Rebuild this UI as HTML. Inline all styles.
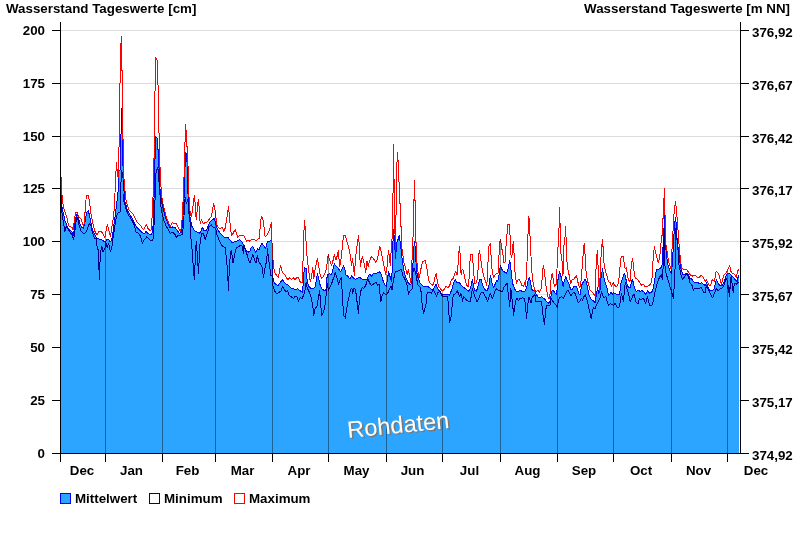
<!DOCTYPE html>
<html><head><meta charset="utf-8"><title>Wasserstand Tageswerte</title>
<style>
html,body{margin:0;padding:0;background:#fff;}
body{width:800px;height:550px;overflow:hidden;font-family:"Liberation Sans",sans-serif;}
svg{display:block;will-change:transform;}
text{font-family:"Liberation Sans",sans-serif;font-weight:bold;font-size:13.33px;fill:#000;}
</style></head><body>
<svg width="800" height="550" viewBox="0 0 800 550">
<rect x="0" y="0" width="800" height="550" fill="#fff"/>

<line x1="61" y1="30.5" x2="740" y2="30.5" stroke="#dcdcdc" stroke-width="1"/>
<line x1="61" y1="83.5" x2="740" y2="83.5" stroke="#dcdcdc" stroke-width="1"/>
<line x1="61" y1="136.5" x2="740" y2="136.5" stroke="#dcdcdc" stroke-width="1"/>
<line x1="61" y1="188.5" x2="740" y2="188.5" stroke="#dcdcdc" stroke-width="1"/>
<line x1="61" y1="241.5" x2="740" y2="241.5" stroke="#dcdcdc" stroke-width="1"/>
<line x1="61" y1="294.5" x2="740" y2="294.5" stroke="#dcdcdc" stroke-width="1"/>
<line x1="61" y1="347.5" x2="740" y2="347.5" stroke="#dcdcdc" stroke-width="1"/>
<line x1="61" y1="400.5" x2="740" y2="400.5" stroke="#dcdcdc" stroke-width="1"/>
<path d="M61.0,192.5 L61.3,200.0 L62.3,209.4 L63.5,213.8 L65.0,220.7 L66.9,225.7 L68.2,228.2 L70.1,230.1 L71.9,232.0 L73.6,235.8 L74.4,226.3 L75.7,217.6 L77.3,213.6 L78.8,218.8 L80.1,224.5 L81.6,227.0 L83.6,228.2 L85.1,221.3 L86.6,212.5 L88.2,210.7 L89.5,215.1 L90.8,222.0 L92.0,227.6 L93.3,232.0 L94.9,235.1 L97.0,238.3 L98.9,239.1 L101.4,239.5 L103.3,240.8 L105.2,242.0 L106.7,239.9 L108.3,239.5 L110.0,241.4 L111.5,240.8 L112.5,236.4 L113.6,227.0 L114.6,220.1 L115.5,213.8 L116.5,205.0 L117.1,200.0 L118.0,192.0 L118.8,191.0 L118.8,170.0 L120.2,170.0 L120.2,134.0 L121.3,134.0 L121.3,108.0 L122.3,108.0 L122.3,128.0 L122.7,130.0 L122.7,166.0 L123.6,166.0 L123.6,180.0 L124.5,190.0 L124.6,200.0 L125.9,205.0 L127.5,210.7 L129.7,214.4 L132.2,218.2 L134.7,223.2 L136.6,227.0 L139.1,229.5 L141.6,232.0 L144.1,234.1 L146.0,231.4 L148.5,233.9 L151.0,235.1 L152.2,232.9 L152.9,228.9 L153.5,215.0 L154.2,192.0 L154.2,160.0 L155.1,159.0 L155.2,136.0 L157.7,138.5 L157.7,149.5 L158.4,150.0 L158.4,167.4 L159.4,168.0 L159.4,187.0 L160.3,190.0 L160.7,196.3 L161.9,203.8 L163.8,211.3 L165.7,218.2 L168.2,223.9 L170.1,227.6 L172.6,227.0 L175.1,227.6 L177.0,230.2 L179.5,233.3 L181.4,232.7 L182.4,225.1 L183.2,212.6 L183.9,200.0 L184.5,190.0 L184.3,168.0 L185.2,167.0 L185.3,152.0 L186.2,153.0 L186.2,161.8 L187.1,162.0 L187.1,178.8 L187.8,180.0 L187.8,192.0 L188.3,197.5 L189.1,208.8 L190.2,218.9 L192.0,226.4 L194.5,230.8 L197.1,232.0 L199.6,233.3 L201.2,230.8 L202.4,227.0 L204.0,230.8 L206.5,230.2 L208.3,225.8 L210.2,222.0 L212.1,220.1 L214.0,218.6 L215.2,221.4 L216.5,227.0 L218.4,230.8 L220.9,233.9 L224.0,237.1 L227.8,237.4 L230.3,240.2 L232.2,242.9 L235.3,241.4 L237.8,240.8 L239.7,239.6 L241.6,241.4 L243.5,244.6 L244.7,247.7 L246.6,251.5 L248.5,252.1 L250.0,250.9 L251.0,248.3 L252.5,246.4 L254.0,249.2 L255.7,252.1 L257.5,248.9 L259.1,249.9 L260.7,245.2 L261.9,243.3 L263.8,245.8 L265.7,248.3 L267.3,241.6 L269.5,242.0 L271.3,239.5 L272.2,243.9 L272.4,262.5 L272.9,277.6 L274.1,282.6 L276.1,284.5 L278.2,285.7 L280.1,282.6 L282.4,279.5 L284.1,282.0 L286.4,284.1 L288.3,285.1 L290.8,287.9 L293.3,288.6 L295.2,290.1 L297.7,288.6 L300.2,290.8 L302.5,292.0 L303.0,286.4 L303.7,273.8 L304.6,267.5 L306.2,268.8 L307.1,280.1 L308.4,285.7 L310.2,287.9 L313.4,288.9 L315.3,287.0 L316.5,278.8 L317.5,273.8 L319.0,280.1 L320.3,285.7 L322.2,289.1 L324.0,290.4 L325.9,290.1 L326.6,280.1 L327.4,275.1 L329.7,273.8 L331.6,274.8 L332.8,270.1 L334.3,263.8 L336.0,266.3 L337.8,267.5 L340.4,271.9 L342.2,268.8 L343.5,265.7 L345.0,270.1 L345.6,274.6 L347.5,275.8 L349.8,279.0 L351.9,275.8 L353.2,277.7 L355.1,279.2 L357.6,278.3 L359.4,277.4 L362.0,279.0 L364.5,279.2 L367.0,279.2 L368.6,275.2 L370.1,273.9 L371.4,276.4 L373.2,273.7 L375.8,273.3 L378.3,272.7 L379.9,271.7 L381.4,275.2 L383.3,281.5 L384.9,285.0 L386.4,286.5 L387.7,277.7 L388.6,271.4 L389.6,275.2 L390.8,279.0 L391.7,281.5 L392.4,262.6 L392.9,243.8 L393.5,229.4 L394.2,237.5 L395.0,250.1 L395.5,258.9 L396.2,250.1 L397.1,241.3 L398.3,238.8 L399.2,235.7 L400.2,242.6 L401.2,250.1 L402.1,258.9 L403.4,267.7 L404.6,273.9 L406.5,279.0 L408.4,283.3 L410.3,284.6 L411.8,283.3 L412.5,272.7 L413.4,256.4 L414.3,241.3 L415.3,247.6 L415.9,260.1 L416.8,272.7 L418.4,279.0 L420.3,283.3 L422.8,285.9 L425.3,286.5 L427.8,286.5 L430.3,288.4 L432.8,290.2 L434.7,286.5 L436.0,284.2 L437.2,287.7 L438.5,290.2 L440.0,291.5 L441.3,293.2 L442.5,294.5 L445.7,294.5 L448.2,294.9 L449.4,295.1 L450.1,294.0 L451.9,289.0 L453.8,282.7 L455.3,279.2 L457.0,282.7 L459.5,282.7 L461.3,285.2 L463.2,287.1 L465.7,289.0 L468.2,291.5 L470.1,289.0 L471.4,285.2 L472.4,279.0 L473.3,285.2 L474.5,290.2 L476.4,291.5 L478.3,285.2 L479.5,279.6 L481.2,279.6 L482.4,285.2 L484.6,289.0 L486.4,290.9 L487.7,289.6 L489.0,285.2 L489.8,279.0 L490.5,275.2 L491.5,280.2 L492.5,285.2 L493.7,287.7 L495.2,284.0 L496.5,280.2 L497.7,281.5 L499.0,275.2 L500.0,267.7 L500.7,265.2 L501.5,268.9 L502.8,270.8 L504.6,272.1 L506.5,273.3 L507.8,270.2 L508.8,265.2 L509.7,260.5 L510.5,265.2 L511.5,275.2 L512.8,284.0 L514.7,289.0 L516.6,291.5 L519.1,290.9 L520.9,290.2 L522.8,292.1 L524.7,291.5 L526.6,287.7 L528.1,280.2 L529.4,277.4 L530.4,281.5 L531.6,289.0 L533.5,290.9 L535.0,290.2 L536.3,294.5 L538.2,297.0 L540.0,298.2 L541.3,296.4 L543.2,297.9 L545.1,299.5 L546.9,302.0 L548.8,303.3 L550.1,301.4 L551.1,295.1 L552.3,290.1 L554.5,292.0 L556.3,294.5 L557.0,290.1 L557.9,280.1 L559.5,271.3 L560.7,275.0 L562.0,281.3 L563.2,286.3 L564.5,280.1 L565.8,276.9 L567.0,280.1 L568.9,283.8 L570.4,288.8 L572.0,290.1 L573.9,286.6 L575.8,286.1 L577.4,288.2 L578.7,293.9 L580.2,294.5 L581.7,285.1 L583.3,281.9 L585.2,279.1 L586.5,282.6 L587.7,288.8 L588.7,293.9 L590.2,297.6 L592.1,300.1 L594.0,301.4 L595.2,302.6 L596.5,293.9 L597.5,287.6 L598.8,293.9 L600.0,290.1 L600.9,278.8 L602.5,268.8 L603.4,275.0 L604.7,281.3 L605.9,285.1 L607.2,288.8 L608.4,295.1 L609.7,294.5 L610.9,292.0 L612.2,294.5 L613.4,292.6 L615.3,293.9 L617.2,294.5 L619.1,295.1 L620.1,290.1 L621.0,282.6 L622.8,277.5 L624.4,273.2 L625.4,276.3 L626.6,282.6 L627.9,286.3 L630.0,288.2 L631.3,282.6 L632.5,279.1 L633.5,283.8 L634.8,288.8 L636.3,291.3 L638.2,290.1 L640.1,291.6 L641.9,290.3 L643.8,292.0 L645.7,294.5 L647.6,290.7 L649.5,293.2 L651.3,292.6 L652.6,290.7 L653.9,285.1 L655.1,277.5 L656.4,269.4 L658.9,269.0 L660.8,268.1 L662.0,265.0 L662.6,253.9 L663.5,240.0 L663.5,229.0 L664.4,228.0 L664.4,215.7 L665.1,217.0 L665.1,237.0 L666.0,250.0 L666.4,253.9 L667.4,262.6 L668.9,267.7 L670.2,271.4 L671.4,273.9 L672.4,262.6 L673.3,247.6 L674.3,228.4 L675.3,217.6 L676.2,223.3 L676.8,238.6 L677.9,246.2 L678.7,251.3 L680.0,262.6 L681.2,270.0 L682.7,274.4 L684.6,275.0 L686.5,273.2 L688.4,275.0 L690.0,278.4 L691.3,278.9 L692.6,280.2 L694.4,282.4 L696.1,282.5 L697.9,282.4 L699.2,283.7 L700.5,283.2 L701.4,282.4 L702.7,283.7 L704.0,284.6 L705.3,285.9 L706.4,282.4 L707.2,285.0 L708.5,288.5 L710.1,290.2 L711.9,290.7 L713.6,289.8 L714.7,286.7 L715.5,282.4 L716.4,279.7 L717.6,282.4 L718.9,284.6 L720.2,285.9 L721.5,285.9 L722.8,284.6 L724.1,281.5 L725.4,278.0 L726.3,275.4 L727.6,273.4 L729.4,273.2 L730.7,274.5 L732.0,275.8 L733.3,277.1 L734.6,278.9 L735.9,280.6 L737.2,281.5 L737.9,278.0 L738.6,275.4 L738.6,453 L61.0,453 Z" fill="#2ba5ff" stroke="none" shape-rendering="crispEdges"/>
<path d="M61.0,192.5 L61.3,200.0 L62.3,209.4 L63.5,213.8 L65.0,220.7 L66.9,225.7 L68.2,228.2 L70.1,230.1 L71.9,232.0 L73.6,235.8 L74.4,226.3 L75.7,217.6 L77.3,213.6 L78.8,218.8 L80.1,224.5 L81.6,227.0 L83.6,228.2 L85.1,221.3 L86.6,212.5 L88.2,210.7 L89.5,215.1 L90.8,222.0 L92.0,227.6 L93.3,232.0 L94.9,235.1 L97.0,238.3 L98.9,239.1 L101.4,239.5 L103.3,240.8 L105.2,242.0 L106.7,239.9 L108.3,239.5 L110.0,241.4 L111.5,240.8 L112.5,236.4 L113.6,227.0 L114.6,220.1 L115.5,213.8 L116.5,205.0 L117.1,200.0 L118.0,192.0 L118.8,191.0 L118.8,170.0 L120.2,170.0 L120.2,134.0 L121.3,134.0 L121.3,108.0 L122.3,108.0 L122.3,128.0 L122.7,130.0 L122.7,166.0 L123.6,166.0 L123.6,180.0 L124.5,190.0 L124.6,200.0 L125.9,205.0 L127.5,210.7 L129.7,214.4 L132.2,218.2 L134.7,223.2 L136.6,227.0 L139.1,229.5 L141.6,232.0 L144.1,234.1 L146.0,231.4 L148.5,233.9 L151.0,235.1 L152.2,232.9 L152.9,228.9 L153.5,215.0 L154.2,192.0 L154.2,160.0 L155.1,159.0 L155.2,136.0 L157.7,138.5 L157.7,149.5 L158.4,150.0 L158.4,167.4 L159.4,168.0 L159.4,187.0 L160.3,190.0 L160.7,196.3 L161.9,203.8 L163.8,211.3 L165.7,218.2 L168.2,223.9 L170.1,227.6 L172.6,227.0 L175.1,227.6 L177.0,230.2 L179.5,233.3 L181.4,232.7 L182.4,225.1 L183.2,212.6 L183.9,200.0 L184.5,190.0 L184.3,168.0 L185.2,167.0 L185.3,152.0 L186.2,153.0 L186.2,161.8 L187.1,162.0 L187.1,178.8 L187.8,180.0 L187.8,192.0 L188.3,197.5 L189.1,208.8 L190.2,218.9 L192.0,226.4 L194.5,230.8 L197.1,232.0 L199.6,233.3 L201.2,230.8 L202.4,227.0 L204.0,230.8 L206.5,230.2 L208.3,225.8 L210.2,222.0 L212.1,220.1 L214.0,218.6 L215.2,221.4 L216.5,227.0 L218.4,230.8 L220.9,233.9 L224.0,237.1 L227.8,237.4 L230.3,240.2 L232.2,242.9 L235.3,241.4 L237.8,240.8 L239.7,239.6 L241.6,241.4 L243.5,244.6 L244.7,247.7 L246.6,251.5 L248.5,252.1 L250.0,250.9 L251.0,248.3 L252.5,246.4 L254.0,249.2 L255.7,252.1 L257.5,248.9 L259.1,249.9 L260.7,245.2 L261.9,243.3 L263.8,245.8 L265.7,248.3 L267.3,241.6 L269.5,242.0 L271.3,239.5 L272.2,243.9 L272.4,262.5 L272.9,277.6 L274.1,282.6 L276.1,284.5 L278.2,285.7 L280.1,282.6 L282.4,279.5 L284.1,282.0 L286.4,284.1 L288.3,285.1 L290.8,287.9 L293.3,288.6 L295.2,290.1 L297.7,288.6 L300.2,290.8 L302.5,292.0 L303.0,286.4 L303.7,273.8 L304.6,267.5 L306.2,268.8 L307.1,280.1 L308.4,285.7 L310.2,287.9 L313.4,288.9 L315.3,287.0 L316.5,278.8 L317.5,273.8 L319.0,280.1 L320.3,285.7 L322.2,289.1 L324.0,290.4 L325.9,290.1 L326.6,280.1 L327.4,275.1 L329.7,273.8 L331.6,274.8 L332.8,270.1 L334.3,263.8 L336.0,266.3 L337.8,267.5 L340.4,271.9 L342.2,268.8 L343.5,265.7 L345.0,270.1 L345.6,274.6 L347.5,275.8 L349.8,279.0 L351.9,275.8 L353.2,277.7 L355.1,279.2 L357.6,278.3 L359.4,277.4 L362.0,279.0 L364.5,279.2 L367.0,279.2 L368.6,275.2 L370.1,273.9 L371.4,276.4 L373.2,273.7 L375.8,273.3 L378.3,272.7 L379.9,271.7 L381.4,275.2 L383.3,281.5 L384.9,285.0 L386.4,286.5 L387.7,277.7 L388.6,271.4 L389.6,275.2 L390.8,279.0 L391.7,281.5 L392.4,262.6 L392.9,243.8 L393.5,229.4 L394.2,237.5 L395.0,250.1 L395.5,258.9 L396.2,250.1 L397.1,241.3 L398.3,238.8 L399.2,235.7 L400.2,242.6 L401.2,250.1 L402.1,258.9 L403.4,267.7 L404.6,273.9 L406.5,279.0 L408.4,283.3 L410.3,284.6 L411.8,283.3 L412.5,272.7 L413.4,256.4 L414.3,241.3 L415.3,247.6 L415.9,260.1 L416.8,272.7 L418.4,279.0 L420.3,283.3 L422.8,285.9 L425.3,286.5 L427.8,286.5 L430.3,288.4 L432.8,290.2 L434.7,286.5 L436.0,284.2 L437.2,287.7 L438.5,290.2 L440.0,291.5 L441.3,293.2 L442.5,294.5 L445.7,294.5 L448.2,294.9 L449.4,295.1 L450.1,294.0 L451.9,289.0 L453.8,282.7 L455.3,279.2 L457.0,282.7 L459.5,282.7 L461.3,285.2 L463.2,287.1 L465.7,289.0 L468.2,291.5 L470.1,289.0 L471.4,285.2 L472.4,279.0 L473.3,285.2 L474.5,290.2 L476.4,291.5 L478.3,285.2 L479.5,279.6 L481.2,279.6 L482.4,285.2 L484.6,289.0 L486.4,290.9 L487.7,289.6 L489.0,285.2 L489.8,279.0 L490.5,275.2 L491.5,280.2 L492.5,285.2 L493.7,287.7 L495.2,284.0 L496.5,280.2 L497.7,281.5 L499.0,275.2 L500.0,267.7 L500.7,265.2 L501.5,268.9 L502.8,270.8 L504.6,272.1 L506.5,273.3 L507.8,270.2 L508.8,265.2 L509.7,260.5 L510.5,265.2 L511.5,275.2 L512.8,284.0 L514.7,289.0 L516.6,291.5 L519.1,290.9 L520.9,290.2 L522.8,292.1 L524.7,291.5 L526.6,287.7 L528.1,280.2 L529.4,277.4 L530.4,281.5 L531.6,289.0 L533.5,290.9 L535.0,290.2 L536.3,294.5 L538.2,297.0 L540.0,298.2 L541.3,296.4 L543.2,297.9 L545.1,299.5 L546.9,302.0 L548.8,303.3 L550.1,301.4 L551.1,295.1 L552.3,290.1 L554.5,292.0 L556.3,294.5 L557.0,290.1 L557.9,280.1 L559.5,271.3 L560.7,275.0 L562.0,281.3 L563.2,286.3 L564.5,280.1 L565.8,276.9 L567.0,280.1 L568.9,283.8 L570.4,288.8 L572.0,290.1 L573.9,286.6 L575.8,286.1 L577.4,288.2 L578.7,293.9 L580.2,294.5 L581.7,285.1 L583.3,281.9 L585.2,279.1 L586.5,282.6 L587.7,288.8 L588.7,293.9 L590.2,297.6 L592.1,300.1 L594.0,301.4 L595.2,302.6 L596.5,293.9 L597.5,287.6 L598.8,293.9 L600.0,290.1 L600.9,278.8 L602.5,268.8 L603.4,275.0 L604.7,281.3 L605.9,285.1 L607.2,288.8 L608.4,295.1 L609.7,294.5 L610.9,292.0 L612.2,294.5 L613.4,292.6 L615.3,293.9 L617.2,294.5 L619.1,295.1 L620.1,290.1 L621.0,282.6 L622.8,277.5 L624.4,273.2 L625.4,276.3 L626.6,282.6 L627.9,286.3 L630.0,288.2 L631.3,282.6 L632.5,279.1 L633.5,283.8 L634.8,288.8 L636.3,291.3 L638.2,290.1 L640.1,291.6 L641.9,290.3 L643.8,292.0 L645.7,294.5 L647.6,290.7 L649.5,293.2 L651.3,292.6 L652.6,290.7 L653.9,285.1 L655.1,277.5 L656.4,269.4 L658.9,269.0 L660.8,268.1 L662.0,265.0 L662.6,253.9 L663.5,240.0 L663.5,229.0 L664.4,228.0 L664.4,215.7 L665.1,217.0 L665.1,237.0 L666.0,250.0 L666.4,253.9 L667.4,262.6 L668.9,267.7 L670.2,271.4 L671.4,273.9 L672.4,262.6 L673.3,247.6 L674.3,228.4 L675.3,217.6 L676.2,223.3 L676.8,238.6 L677.9,246.2 L678.7,251.3 L680.0,262.6 L681.2,270.0 L682.7,274.4 L684.6,275.0 L686.5,273.2 L688.4,275.0 L690.0,278.4 L691.3,278.9 L692.6,280.2 L694.4,282.4 L696.1,282.5 L697.9,282.4 L699.2,283.7 L700.5,283.2 L701.4,282.4 L702.7,283.7 L704.0,284.6 L705.3,285.9 L706.4,282.4 L707.2,285.0 L708.5,288.5 L710.1,290.2 L711.9,290.7 L713.6,289.8 L714.7,286.7 L715.5,282.4 L716.4,279.7 L717.6,282.4 L718.9,284.6 L720.2,285.9 L721.5,285.9 L722.8,284.6 L724.1,281.5 L725.4,278.0 L726.3,275.4 L727.6,273.4 L729.4,273.2 L730.7,274.5 L732.0,275.8 L733.3,277.1 L734.6,278.9 L735.9,280.6 L737.2,281.5 L737.9,278.0 L738.6,275.4" fill="none" stroke="#0000ff" stroke-width="1" stroke-linejoin="round" shape-rendering="crispEdges"/>
<path d="M61.0,200.0 L61.3,207.5 L62.5,216.3 L63.8,225.1 L64.8,231.4 L66.3,226.6 L67.5,228.6 L70.1,232.0 L71.9,234.9 L73.6,239.5 L74.8,232.0 L75.7,223.8 L77.0,216.9 L78.2,220.7 L79.5,227.0 L81.3,231.4 L83.2,233.2 L85.7,232.9 L87.4,228.9 L89.1,223.8 L90.8,225.1 L92.0,231.4 L93.3,235.1 L94.9,238.9 L96.5,239.0 L97.2,247.9 L98.4,250.4 L99.0,269.6 L99.4,279.8 L100.2,256.8 L101.0,250.4 L101.9,246.7 L102.9,251.7 L104.8,249.2 L105.8,242.7 L107.1,247.7 L108.7,243.3 L110.2,251.4 L111.7,248.3 L112.7,240.2 L114.0,232.6 L115.2,223.2 L116.5,216.3 L117.7,213.2 L120.2,211.9 L120.7,190.0 L121.5,171.0 L122.5,174.0 L123.2,180.0 L124.1,192.7 L123.4,200.0 L125.3,206.3 L127.1,211.9 L129.0,215.7 L131.5,219.4 L134.0,224.5 L136.3,232.6 L138.4,233.2 L140.3,235.8 L142.5,243.3 L144.1,239.9 L146.6,237.0 L148.9,238.9 L151.0,240.8 L152.9,239.9 L153.7,231.4 L154.5,215.0 L155.2,195.0 L155.6,174.0 L157.5,168.0 L158.4,170.0 L158.4,177.8 L159.4,184.5 L159.8,192.0 L160.7,205.1 L161.9,212.6 L163.8,220.1 L165.7,225.1 L168.2,229.5 L170.3,233.3 L172.6,232.7 L174.5,233.3 L176.3,237.7 L177.9,235.2 L180.7,235.2 L182.6,233.9 L183.6,221.4 L184.5,208.8 L185.1,197.5 L186.4,204.0 L187.5,200.0 L188.3,202.5 L189.1,215.0 L190.2,223.9 L190.2,230.0 L191.2,241.3 L192.4,252.6 L193.4,268.9 L194.4,279.6 L195.2,261.4 L196.2,241.9 L196.9,248.8 L197.7,261.4 L198.6,273.7 L199.3,255.1 L200.2,241.3 L201.7,233.8 L203.3,233.1 L205.2,239.4 L207.1,233.8 L208.3,230.0 L209.0,227.0 L211.2,224.5 L212.7,227.0 L214.6,227.6 L215.9,230.0 L217.1,235.0 L219.0,240.0 L222.1,245.7 L225.3,247.6 L226.3,257.6 L227.5,270.2 L228.5,290.9 L229.3,267.6 L230.3,255.1 L231.3,250.1 L232.2,256.3 L233.1,263.2 L234.1,257.6 L235.3,251.3 L236.6,247.6 L239.1,246.3 L241.0,245.1 L242.2,246.3 L243.5,253.8 L244.1,245.1 L245.4,250.1 L247.2,255.1 L249.1,261.4 L250.0,263.2 L251.5,259.0 L252.8,254.6 L254.4,259.0 L256.0,263.3 L257.3,255.8 L258.8,261.5 L260.7,264.6 L261.9,266.5 L263.6,277.6 L264.4,271.3 L265.7,265.0 L266.6,260.6 L267.6,248.9 L268.2,256.3 L269.5,265.0 L270.7,275.1 L272.0,275.7 L272.9,285.7 L274.5,290.8 L276.4,293.9 L278.6,292.4 L280.8,291.4 L282.4,286.4 L284.5,290.1 L286.2,291.6 L287.7,290.8 L289.2,295.2 L291.4,297.0 L293.7,298.3 L295.2,296.4 L296.7,296.4 L298.3,301.2 L300.2,297.7 L302.1,298.3 L303.7,295.2 L305.0,290.1 L306.2,282.0 L307.1,287.6 L309.0,291.4 L310.9,296.4 L312.5,303.9 L313.8,315.2 L315.0,309.0 L317.1,305.8 L318.4,297.7 L319.7,290.8 L320.5,302.7 L321.8,315.2 L323.4,312.7 L324.7,307.7 L325.9,297.7 L327.2,283.9 L328.4,290.1 L330.3,286.4 L332.2,282.0 L334.1,276.3 L335.1,272.6 L336.6,276.3 L338.5,284.5 L340.0,280.1 L341.4,277.6 L342.2,292.6 L343.1,307.7 L344.1,316.5 L345.0,316.5 L345.3,318.3 L346.5,310.2 L347.8,301.4 L349.4,295.1 L350.7,289.5 L351.9,288.2 L352.5,293.9 L353.6,288.8 L354.8,288.2 L356.1,293.9 L357.3,303.9 L358.4,313.3 L359.4,300.1 L360.7,291.3 L362.3,287.6 L363.8,288.2 L365.7,285.7 L367.0,280.7 L368.2,279.4 L369.5,282.6 L371.4,285.7 L373.6,283.8 L375.8,282.3 L377.6,285.1 L379.1,284.4 L379.9,292.6 L380.8,301.4 L382.0,296.4 L383.7,292.6 L385.4,294.5 L386.7,294.5 L388.3,292.0 L389.9,288.2 L391.2,286.3 L392.1,290.1 L392.9,283.8 L394.0,277.5 L395.2,271.9 L397.7,271.3 L400.2,270.0 L401.7,269.4 L402.5,275.0 L404.0,277.5 L405.9,281.3 L407.1,285.1 L407.8,290.1 L408.6,294.5 L409.6,291.3 L410.9,290.1 L412.5,288.2 L413.0,272.5 L414.0,268.1 L415.3,271.3 L416.5,277.5 L417.8,285.1 L419.7,286.3 L420.9,290.1 L421.8,301.4 L422.8,308.9 L423.8,313.3 L425.1,307.7 L426.3,302.6 L427.2,292.0 L429.1,292.0 L431.3,293.2 L433.5,290.1 L434.7,292.0 L436.4,296.4 L437.9,292.6 L440.0,291.3 L441.9,295.7 L442.8,296.1 L447.5,296.1 L448.6,306.4 L449.4,322.1 L450.7,320.2 L451.9,308.9 L452.8,297.6 L453.8,294.5 L455.7,293.9 L457.3,290.7 L458.8,294.5 L459.8,296.4 L460.7,293.2 L461.6,296.4 L462.6,301.4 L463.6,296.4 L465.1,298.2 L467.0,300.8 L468.9,301.4 L470.4,301.4 L471.4,295.1 L472.4,288.2 L473.3,292.0 L474.9,297.0 L477.0,301.4 L478.9,298.2 L480.8,293.2 L482.7,292.0 L484.6,295.1 L486.4,298.2 L487.7,301.4 L489.2,296.4 L490.5,293.2 L491.5,296.4 L492.3,298.2 L493.7,295.1 L495.2,290.7 L496.7,288.8 L498.4,290.1 L500.2,290.7 L502.1,292.0 L503.8,287.6 L505.5,285.1 L507.1,283.2 L507.8,290.1 L508.8,297.6 L509.7,307.0 L510.9,288.8 L511.8,296.4 L512.8,306.4 L513.7,315.2 L514.7,306.4 L515.9,300.1 L517.2,298.2 L518.4,300.8 L520.3,298.2 L522.8,297.9 L524.7,298.6 L525.6,307.7 L526.6,318.3 L527.6,306.4 L528.9,297.0 L529.7,298.9 L531.0,302.6 L532.2,297.6 L533.5,295.7 L535.0,294.5 L535.3,301.4 L537.5,301.6 L539.4,301.6 L541.3,301.4 L542.3,307.7 L543.2,316.4 L544.4,324.6 L545.3,315.2 L546.3,305.8 L548.2,305.2 L550.1,305.2 L551.3,298.9 L552.3,300.8 L554.5,303.3 L556.3,305.4 L557.4,307.7 L558.2,301.4 L559.5,298.2 L561.4,296.4 L563.2,298.2 L565.1,295.1 L566.6,292.0 L567.6,290.1 L569.1,292.0 L570.8,295.7 L572.7,293.2 L574.2,292.0 L575.8,295.1 L577.1,298.9 L578.3,302.6 L579.6,301.4 L581.4,298.2 L582.7,300.1 L584.0,296.4 L585.2,294.5 L586.2,297.6 L587.7,302.6 L589.0,308.9 L590.2,313.9 L591.2,318.3 L592.4,311.4 L593.4,307.7 L595.0,308.9 L596.5,305.2 L598.4,301.4 L600.3,297.6 L601.5,292.0 L602.5,294.5 L604.0,298.2 L605.9,296.4 L607.2,301.4 L608.4,305.2 L610.3,303.9 L612.2,304.5 L613.8,305.2 L615.3,303.3 L617.2,307.4 L619.1,307.0 L620.3,301.4 L621.3,293.9 L622.2,296.4 L623.5,301.4 L624.4,290.1 L625.4,282.6 L626.6,287.6 L627.9,292.0 L629.1,296.4 L630.0,301.4 L631.5,298.9 L632.8,295.7 L634.0,294.5 L635.0,298.2 L636.3,302.6 L638.2,303.3 L639.4,298.9 L641.1,300.1 L642.6,298.2 L644.1,299.5 L645.7,303.3 L647.3,296.4 L648.6,301.4 L649.8,305.2 L652.0,305.4 L653.2,301.4 L654.5,295.1 L655.7,288.8 L657.0,283.8 L658.2,280.1 L660.1,276.3 L661.4,275.0 L662.3,279.4 L662.9,270.0 L663.3,265.0 L664.0,240.0 L664.5,230.0 L664.9,265.0 L665.8,272.5 L667.7,278.8 L669.5,285.1 L671.2,290.1 L672.4,295.1 L673.3,298.2 L673.9,290.1 L674.6,281.3 L674.9,271.3 L675.2,265.0 L675.6,235.0 L676.0,228.0 L677.0,238.0 L678.0,250.0 L679.0,265.0 L680.0,270.0 L681.2,276.3 L682.5,279.4 L684.0,277.5 L685.5,275.7 L686.5,273.8 L687.7,275.7 L689.2,278.8 L690.0,283.2 L691.3,284.1 L692.2,285.9 L693.5,290.2 L694.4,288.5 L696.1,288.3 L697.9,288.1 L699.6,288.1 L701.2,287.2 L702.2,289.8 L703.6,292.4 L705.0,292.7 L705.7,288.5 L706.6,285.9 L707.5,288.5 L708.8,290.2 L710.1,292.9 L711.4,295.5 L712.6,297.7 L713.6,295.5 L714.9,292.0 L716.1,288.5 L717.1,289.8 L718.2,290.7 L719.3,289.8 L720.6,288.5 L721.9,288.1 L723.2,286.7 L724.3,284.1 L725.4,280.6 L726.3,278.9 L727.2,280.6 L727.8,286.7 L728.5,292.9 L728.9,285.0 L729.5,296.4 L730.1,287.6 L730.7,279.7 L731.1,276.2 L732.0,283.2 L732.7,288.5 L733.3,292.4 L733.7,287.6 L734.4,284.1 L735.3,283.2 L736.4,284.1 L737.7,282.8 L738.6,282.4" fill="none" stroke="#00008b" stroke-width="1" stroke-linejoin="round" shape-rendering="crispEdges"/>
<path d="M61.0,176.8 L61.5,187.5 L62.3,200.0 L63.2,205.0 L64.0,209.4 L65.7,213.8 L67.2,218.8 L68.4,224.5 L69.4,226.6 L71.9,227.4 L73.2,230.1 L74.1,222.6 L75.1,215.7 L76.0,212.5 L77.3,212.5 L78.8,216.9 L80.7,218.6 L82.4,222.6 L83.6,227.0 L84.6,218.8 L85.5,205.0 L86.4,195.4 L88.4,195.4 L89.1,200.0 L89.9,205.0 L90.8,212.5 L91.6,217.6 L92.9,223.2 L94.1,228.2 L95.4,232.9 L97.0,234.5 L98.7,231.6 L101.2,231.4 L102.9,233.9 L104.9,237.4 L105.8,232.0 L107.4,224.1 L109.0,230.7 L110.5,236.4 L111.5,228.9 L112.5,222.6 L113.7,216.0 L114.7,201.0 L115.5,180.0 L116.5,163.0 L117.5,175.0 L118.3,178.0 L118.6,163.0 L118.6,147.3 L119.4,147.0 L119.4,83.3 L120.3,83.0 L120.3,43.8 L121.3,43.5 L121.3,36.0 L121.6,36.0 L121.6,70.8 L122.6,71.0 L122.6,139.8 L123.6,140.0 L123.6,179.0 L124.5,179.5 L124.5,189.0 L125.5,193.0 L125.9,200.0 L127.5,205.6 L129.0,210.0 L132.8,213.8 L135.3,218.2 L137.2,222.6 L140.3,225.1 L143.5,229.9 L146.2,224.5 L148.5,229.5 L151.0,230.7 L151.9,220.7 L152.6,207.5 L153.2,192.0 L153.3,160.0 L154.2,158.0 L154.2,92.0 L155.2,91.0 L155.2,57.0 L157.1,60.0 L157.7,62.0 L157.7,84.8 L158.7,86.0 L158.7,132.9 L159.6,134.0 L159.7,167.0 L160.6,168.0 L160.6,186.0 L161.6,188.0 L161.9,197.5 L163.2,205.1 L165.1,212.6 L166.9,218.9 L168.8,223.2 L170.1,226.4 L172.3,222.4 L173.8,223.9 L176.3,223.9 L178.2,227.6 L180.1,231.4 L181.4,227.6 L182.4,215.1 L182.9,203.8 L183.6,190.0 L183.3,178.0 L184.3,177.0 L184.3,143.0 L185.3,142.0 L185.3,124.7 L186.3,132.0 L186.4,146.0 L187.3,147.0 L187.3,166.0 L188.4,167.0 L188.4,190.0 L188.9,195.0 L189.5,203.8 L190.2,213.8 L191.2,217.0 L192.4,211.3 L193.3,203.8 L194.3,195.3 L195.2,203.8 L196.2,220.1 L197.4,207.6 L198.3,199.0 L199.2,207.6 L200.2,223.9 L201.4,219.5 L203.3,223.9 L205.2,222.6 L207.1,222.0 L209.0,219.5 L211.5,216.3 L212.5,210.1 L213.5,203.2 L214.6,207.6 L215.5,212.6 L216.5,223.9 L218.4,227.6 L220.3,228.9 L222.1,227.0 L224.0,231.4 L225.3,227.6 L226.8,218.9 L227.8,211.3 L228.5,206.9 L229.3,215.1 L230.3,226.4 L231.6,235.8 L233.4,232.7 L235.3,229.5 L236.6,233.3 L237.6,237.1 L239.7,235.4 L243.5,235.2 L245.4,238.3 L246.6,241.4 L247.9,240.2 L250.0,241.2 L251.5,239.1 L253.8,239.1 L256.3,240.8 L257.5,239.1 L259.4,238.9 L260.3,223.8 L261.3,216.5 L262.8,218.2 L263.8,225.1 L265.1,237.0 L267.0,235.1 L268.8,232.0 L270.7,225.7 L271.3,222.6 L272.0,242.6 L272.6,255.2 L273.6,266.9 L274.5,271.9 L276.4,275.1 L278.2,277.6 L279.5,271.3 L280.5,265.3 L281.6,270.1 L283.3,273.8 L284.9,274.4 L286.4,278.2 L288.3,279.5 L289.5,277.6 L291.4,279.5 L293.3,277.6 L295.2,279.5 L297.1,277.6 L298.3,277.6 L300.2,282.0 L302.1,282.6 L302.7,267.5 L303.3,255.0 L303.7,236.4 L304.5,220.1 L305.2,228.2 L306.2,243.9 L307.1,257.7 L308.4,267.5 L309.6,277.6 L310.5,282.0 L311.5,276.3 L312.8,267.5 L313.8,278.8 L315.0,270.1 L316.5,262.5 L317.5,258.5 L318.5,265.0 L320.0,273.8 L321.5,278.8 L323.4,276.3 L325.3,272.6 L326.6,267.5 L327.4,260.0 L328.3,254.2 L329.3,259.0 L330.6,263.3 L331.8,265.2 L333.1,260.2 L334.3,254.6 L336.0,260.2 L337.2,255.8 L338.2,250.8 L339.1,260.2 L339.7,266.5 L341.0,259.0 L341.9,251.4 L342.9,241.4 L343.5,235.1 L345.0,235.1 L346.9,241.3 L348.8,247.6 L350.3,255.1 L351.5,265.2 L352.5,258.2 L353.6,267.7 L354.4,275.2 L355.3,261.4 L356.3,251.3 L357.6,242.6 L358.6,235.3 L359.4,247.6 L360.3,266.4 L361.3,261.4 L362.3,256.4 L363.2,260.1 L364.5,265.2 L365.7,272.7 L367.0,261.4 L368.2,266.4 L369.1,262.6 L370.1,260.1 L371.4,256.4 L373.2,258.2 L375.8,262.6 L377.6,258.9 L378.9,250.1 L379.8,246.6 L380.8,250.1 L382.0,256.4 L383.3,262.6 L384.5,268.9 L385.8,274.6 L387.1,266.4 L387.7,257.6 L388.6,250.7 L389.3,256.4 L390.2,265.2 L390.8,256.4 L391.4,248.2 L392.1,237.5 L392.4,225.0 L392.4,193.0 L393.4,193.0 L393.4,144.0 L394.4,200.0 L395.3,250.0 L396.3,200.0 L397.2,152.3 L398.2,162.0 L398.6,181.7 L399.4,182.0 L399.4,203.0 L400.5,203.0 L400.5,226.7 L401.4,227.0 L401.4,244.7 L402.7,253.9 L404.0,262.6 L405.5,267.7 L407.1,274.6 L408.4,269.5 L409.6,276.4 L410.9,282.7 L411.8,266.4 L412.3,250.1 L412.3,238.0 L413.3,237.0 L413.3,199.5 L414.4,199.0 L414.4,180.0 L414.6,200.8 L415.6,201.0 L415.6,242.8 L416.6,243.0 L416.6,260.0 L417.5,267.7 L418.4,275.2 L419.3,277.7 L420.3,272.7 L421.6,265.2 L422.8,261.4 L425.3,260.4 L426.6,266.4 L427.8,275.2 L429.3,282.1 L431.0,284.0 L432.8,285.2 L434.1,281.5 L435.4,274.6 L436.4,273.9 L437.2,280.2 L438.5,286.5 L440.0,287.7 L440.6,289.0 L442.5,290.9 L444.4,289.0 L446.3,286.2 L448.2,287.7 L449.8,285.2 L451.3,280.2 L453.2,278.3 L454.4,274.6 L455.7,271.4 L457.0,274.6 L457.8,268.9 L458.6,255.1 L459.5,246.3 L460.3,256.4 L461.1,275.2 L462.0,270.2 L462.9,269.5 L464.1,273.9 L465.1,279.0 L466.4,285.2 L468.2,286.5 L469.1,277.7 L469.9,262.6 L470.5,254.5 L472.3,254.5 L473.0,262.6 L473.9,275.2 L474.9,283.3 L476.4,282.7 L477.7,277.7 L478.3,262.6 L479.2,250.7 L480.2,255.1 L481.2,262.6 L482.4,270.2 L483.7,276.4 L485.2,280.2 L486.7,285.2 L487.4,277.7 L487.9,265.2 L488.7,246.3 L490.2,243.6 L490.8,251.3 L491.7,266.4 L492.7,274.6 L493.7,277.1 L495.2,274.6 L497.1,273.3 L498.4,272.7 L499.2,250.1 L500.2,239.4 L501.2,243.8 L502.1,250.1 L503.4,257.0 L504.0,262.6 L505.0,262.6 L505.5,255.1 L506.3,241.3 L506.2,234.0 L507.2,234.0 L507.2,224.2 L509.7,224.2 L509.7,235.0 L510.7,235.5 L511.0,255.1 L511.8,257.6 L512.5,248.8 L513.4,241.3 L514.0,252.6 L514.7,268.9 L515.6,277.7 L516.6,284.0 L517.6,280.2 L518.8,279.0 L520.3,281.5 L521.8,285.2 L523.5,286.5 L524.7,282.7 L525.6,286.5 L526.3,275.2 L527.0,262.6 L527.2,250.0 L527.2,234.0 L528.3,234.0 L528.3,216.0 L529.5,219.0 L529.7,236.0 L530.8,236.5 L530.8,250.0 L531.0,256.4 L531.6,268.9 L532.6,279.0 L533.5,285.2 L535.0,291.5 L536.3,291.5 L537.8,290.2 L539.4,292.1 L541.0,289.0 L541.9,282.7 L542.5,271.4 L543.4,265.2 L544.4,271.4 L545.3,280.2 L546.3,287.7 L547.6,296.4 L549.1,298.9 L550.1,293.9 L551.1,279.0 L552.2,273.3 L553.2,279.0 L554.5,286.5 L556.3,284.0 L557.0,268.9 L557.9,250.1 L558.3,240.0 L558.3,228.0 L559.3,228.0 L559.3,207.0 L559.7,223.0 L560.5,223.5 L560.5,240.0 L560.7,253.9 L561.6,254.5 L562.4,267.7 L562.9,275.2 L563.6,266.4 L564.1,240.1 L564.9,240.1 L565.4,226.9 L566.1,238.8 L566.6,261.4 L567.4,262.6 L568.3,273.3 L569.5,275.2 L570.4,284.0 L572.0,280.2 L573.9,279.0 L575.2,277.1 L576.4,275.2 L577.4,280.2 L578.7,285.2 L579.9,287.7 L580.8,284.0 L581.7,272.7 L582.7,262.6 L583.3,250.1 L584.3,243.2 L585.0,253.9 L585.8,268.9 L587.1,279.0 L588.7,285.2 L590.2,290.2 L592.1,292.1 L594.0,294.6 L595.2,296.5 L595.5,285.2 L596.2,262.6 L597.4,250.1 L598.1,267.7 L598.8,285.2 L599.6,290.2 L600.3,268.9 L601.3,252.0 L602.4,239.1 L603.1,247.6 L604.0,262.6 L605.3,270.2 L606.8,275.2 L608.4,281.5 L610.3,282.7 L611.6,286.5 L613.2,282.1 L614.7,285.2 L616.3,286.7 L617.8,285.2 L619.3,276.4 L620.3,262.6 L621.3,256.1 L623.5,256.1 L624.1,262.6 L625.1,268.9 L626.4,267.7 L627.2,273.9 L628.5,280.2 L630.0,281.5 L630.6,272.7 L631.5,263.9 L632.5,258.2 L633.5,265.2 L634.4,275.2 L635.7,278.3 L637.5,279.6 L639.4,282.1 L641.3,285.2 L643.2,284.0 L645.1,287.1 L647.0,286.5 L649.5,285.2 L651.3,282.7 L652.4,275.2 L653.2,256.4 L654.5,246.3 L655.4,252.0 L656.4,255.1 L657.4,260.1 L658.2,262.6 L659.5,258.9 L660.5,250.1 L661.4,237.5 L661.3,235.4 L662.5,235.0 L662.5,218.2 L663.5,218.0 L663.5,198.5 L664.5,198.0 L664.5,188.3 L664.7,215.0 L665.6,215.5 L665.6,243.0 L666.7,248.8 L667.7,256.4 L668.9,262.6 L670.2,266.4 L671.2,269.5 L671.7,257.6 L672.2,243.8 L672.3,231.0 L673.3,231.0 L673.3,214.4 L674.3,214.0 L674.3,206.0 L675.3,205.5 L675.3,201.0 L676.2,207.4 L676.6,217.0 L677.6,217.5 L677.6,230.0 L678.6,230.5 L678.6,243.0 L679.0,243.8 L680.0,255.1 L680.8,262.6 L682.1,268.9 L684.0,269.2 L686.5,269.5 L688.4,272.1 L690.0,274.5 L690.9,275.4 L692.2,276.2 L693.5,275.4 L695.2,275.5 L697.0,277.3 L698.7,277.6 L700.1,276.2 L701.4,275.4 L702.7,276.7 L704.0,279.3 L705.3,281.5 L706.4,279.7 L707.5,282.4 L708.8,284.6 L710.1,285.9 L711.0,283.7 L712.3,279.7 L713.2,280.6 L714.5,281.1 L715.4,275.4 L716.2,271.4 L718.0,272.7 L719.3,276.2 L720.4,280.6 L721.5,284.6 L722.5,279.7 L723.7,275.4 L725.0,274.1 L726.7,272.3 L728.1,268.8 L729.4,265.7 L730.2,267.5 L731.1,271.9 L732.4,273.4 L733.7,273.6 L735.1,275.4 L736.4,277.1 L737.2,273.6 L738.1,270.1 L738.7,269.2" fill="none" stroke="#ff0000" stroke-width="1" stroke-linejoin="round" shape-rendering="crispEdges"/>
<g stroke="#000" stroke-opacity="0.4" stroke-width="1" shape-rendering="crispEdges">
<line x1="105.5" y1="237" x2="105.5" y2="453"/>
<line x1="162.5" y1="201" x2="162.5" y2="453"/>
<line x1="215.5" y1="212" x2="215.5" y2="453"/>
<line x1="272.5" y1="243" x2="272.5" y2="453"/>
<line x1="328.5" y1="254" x2="328.5" y2="453"/>
<line x1="386.5" y1="274" x2="386.5" y2="453"/>
<line x1="442.5" y1="291" x2="442.5" y2="453"/>
<line x1="500.5" y1="239" x2="500.5" y2="453"/>
<line x1="557.5" y1="286" x2="557.5" y2="453"/>
<line x1="613.5" y1="282" x2="613.5" y2="453"/>
<line x1="671.5" y1="269" x2="671.5" y2="453"/>
<line x1="727.5" y1="272" x2="727.5" y2="453"/>
</g>
<g stroke="#000" stroke-width="1" shape-rendering="crispEdges">
<line x1="60.5" y1="22" x2="60.5" y2="462"/>
<line x1="740.5" y1="22" x2="740.5" y2="454"/>
<line x1="52" y1="453.5" x2="749" y2="453.5"/>
<line x1="52" y1="30.5" x2="60" y2="30.5"/>
<line x1="740" y1="30.5" x2="749" y2="30.5"/>
<line x1="52" y1="83.5" x2="60" y2="83.5"/>
<line x1="740" y1="83.5" x2="749" y2="83.5"/>
<line x1="52" y1="136.5" x2="60" y2="136.5"/>
<line x1="740" y1="136.5" x2="749" y2="136.5"/>
<line x1="52" y1="188.5" x2="60" y2="188.5"/>
<line x1="740" y1="188.5" x2="749" y2="188.5"/>
<line x1="52" y1="241.5" x2="60" y2="241.5"/>
<line x1="740" y1="241.5" x2="749" y2="241.5"/>
<line x1="52" y1="294.5" x2="60" y2="294.5"/>
<line x1="740" y1="294.5" x2="749" y2="294.5"/>
<line x1="52" y1="347.5" x2="60" y2="347.5"/>
<line x1="740" y1="347.5" x2="749" y2="347.5"/>
<line x1="52" y1="400.5" x2="60" y2="400.5"/>
<line x1="740" y1="400.5" x2="749" y2="400.5"/>
<line x1="105.5" y1="453" x2="105.5" y2="462"/>
<line x1="162.5" y1="453" x2="162.5" y2="462"/>
<line x1="215.5" y1="453" x2="215.5" y2="462"/>
<line x1="272.5" y1="453" x2="272.5" y2="462"/>
<line x1="328.5" y1="453" x2="328.5" y2="462"/>
<line x1="386.5" y1="453" x2="386.5" y2="462"/>
<line x1="442.5" y1="453" x2="442.5" y2="462"/>
<line x1="500.5" y1="453" x2="500.5" y2="462"/>
<line x1="557.5" y1="453" x2="557.5" y2="462"/>
<line x1="613.5" y1="453" x2="613.5" y2="462"/>
<line x1="671.5" y1="453" x2="671.5" y2="462"/>
<line x1="727.5" y1="453" x2="727.5" y2="462"/>
</g>
<text x="45" y="35" text-anchor="end">200</text>
<text x="45" y="88" text-anchor="end">175</text>
<text x="45" y="141" text-anchor="end">150</text>
<text x="45" y="193" text-anchor="end">125</text>
<text x="45" y="246" text-anchor="end">100</text>
<text x="45" y="299" text-anchor="end">75</text>
<text x="45" y="352" text-anchor="end">50</text>
<text x="45" y="405" text-anchor="end">25</text>
<text x="45" y="458" text-anchor="end">0</text>
<text x="752" y="37">376,92</text>
<text x="752" y="90">376,67</text>
<text x="752" y="143">376,42</text>
<text x="752" y="195">376,17</text>
<text x="752" y="248">375,92</text>
<text x="752" y="301">375,67</text>
<text x="752" y="354">375,42</text>
<text x="752" y="407">375,17</text>
<text x="752" y="460">374,92</text>
<text x="82" y="475" text-anchor="middle">Dec</text>
<text x="131.5" y="475" text-anchor="middle">Jan</text>
<text x="187.5" y="475" text-anchor="middle">Feb</text>
<text x="242.5" y="475" text-anchor="middle">Mar</text>
<text x="299" y="475" text-anchor="middle">Apr</text>
<text x="356.5" y="475" text-anchor="middle">May</text>
<text x="412.5" y="475" text-anchor="middle">Jun</text>
<text x="469.5" y="475" text-anchor="middle">Jul</text>
<text x="527.5" y="475" text-anchor="middle">Aug</text>
<text x="584" y="475" text-anchor="middle">Sep</text>
<text x="641" y="475" text-anchor="middle">Oct</text>
<text x="698.5" y="475" text-anchor="middle">Nov</text>
<text x="756" y="475" text-anchor="middle">Dec</text>
<text x="6" y="13">Wasserstand Tageswerte [cm]</text>
<text x="790" y="13" text-anchor="end">Wasserstand Tageswerte [m NN]</text>
<rect x="60.5" y="493.5" width="10" height="10" fill="#2ba5ff" stroke="#0000ff" stroke-width="1"/>
<text x="75" y="503">Mittelwert</text>
<rect x="149.5" y="493.5" width="10" height="10" fill="#fff" stroke="#00008b" stroke-width="1"/>
<text x="164" y="503">Minimum</text>
<rect x="234.5" y="493.5" width="10" height="10" fill="#fff" stroke="#ff0000" stroke-width="1"/>
<text x="249" y="503">Maximum</text>
<g transform="translate(348,438) rotate(-5.6)"><text x="1.5" y="1.5" style="font-weight:normal;font-size:23.6px;fill:#7a7a7a">Rohdaten</text><text x="0" y="0" style="font-weight:normal;font-size:23.6px;fill:#fff">Rohdaten</text></g>
</svg></body></html>
